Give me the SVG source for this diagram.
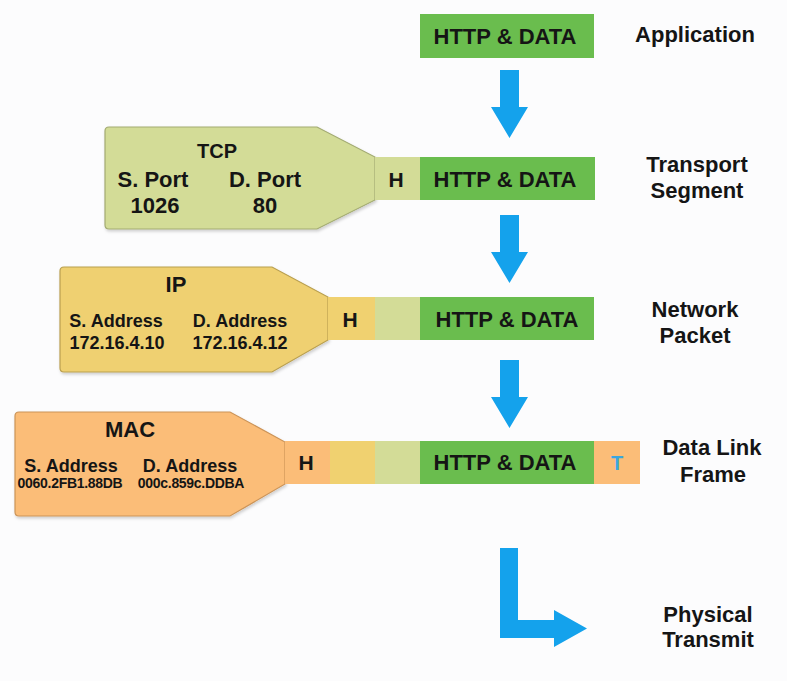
<svg xmlns="http://www.w3.org/2000/svg" width="787" height="681" viewBox="0 0 787 681">
<defs>
<style>
text{font-family:"Liberation Sans",Arial,Helvetica,sans-serif;font-weight:bold;fill:#151515;text-anchor:middle}
.lbl{font-size:22px}
.big{font-size:22px}
.mid{font-size:18px}
.sm{font-size:14px}
.http{fill:#6abd4e}
.lg{fill:#d3dc97}
.yl{fill:#f0d170}
.or{fill:#fbbd78}
.arrow{fill:#14a2ec}
.tcp{fill:#d3dc97;stroke:#a3ab72;stroke-width:1.2}
.ip{fill:#efd071;stroke:#b99f4f;stroke-width:1.2}
.mac{fill:#fbbd78;stroke:#cc9458;stroke-width:1.2}
</style>
<filter id="sh" x="-5%" y="-5%" width="115%" height="125%">
<feDropShadow dx="1" dy="2" stdDeviation="1.5" flood-color="#000" flood-opacity="0.18"/>
</filter>
</defs>
<rect width="787" height="681" fill="#fcfcfd"/>

<g id="connectors">
<path class="arrow" d="M500,70 H519 V107 H528 L509.5,138 L491,107 H500 Z"/>
<path class="arrow" d="M500,215 H519 V252 H528 L509.5,283 L491,252 H500 Z"/>
<path class="arrow" d="M500,360 H519 V397 H528 L509.5,428 L491,397 H500 Z"/>
<path class="arrow" d="M500,548 H518 V620 H554 V610 L587,628.5 L554,647 V638 H500 Z"/>
</g>

<g id="application">
<rect class="http" x="420" y="14" width="174" height="44"/>
<text class="big" x="505" y="44">HTTP &amp; DATA</text>
<text class="lbl" x="695" y="42">Application</text>
</g>

<g id="transport">
<path class="tcp" filter="url(#sh)" d="M109,127 H317 L375,157 V200 L317,229 H109 Q105,229 105,225 V131 Q105,127 109,127 Z"/>
<rect class="lg" x="375" y="157" width="45" height="43"/>
<rect class="http" x="420" y="157" width="175" height="43"/>
<text class="big" x="217" y="158" style="font-size:20px">TCP</text>
<text class="big" x="153" y="187">S. Port</text>
<text class="big" x="265" y="187">D. Port</text>
<text class="big" x="155" y="213">1026</text>
<text class="big" x="265" y="213">80</text>
<text class="big" x="396" y="187" style="font-size:21px">H</text>
<text class="big" x="505" y="187">HTTP &amp; DATA</text>
<text class="lbl" x="697" y="172">Transport</text>
<text class="lbl" x="697" y="198">Segment</text>
</g>

<g id="network">
<path class="ip" filter="url(#sh)" d="M64,267 H272 L328,297 V340 L272,372 H64 Q60,372 60,368 V271 Q60,267 64,267 Z"/>
<rect class="yl" x="328" y="297" width="47" height="43"/>
<rect class="lg" x="375" y="297" width="45" height="43"/>
<rect class="http" x="420" y="297" width="174" height="43"/>
<text class="big" x="176" y="292">IP</text>
<text class="mid" x="116" y="327">S. Address</text>
<text class="mid" x="240" y="327">D. Address</text>
<text class="mid" x="117" y="349">172.16.4.10</text>
<text class="mid" x="240" y="349">172.16.4.12</text>
<text class="big" x="350" y="327" style="font-size:21px">H</text>
<text class="big" x="507" y="327">HTTP &amp; DATA</text>
<text class="lbl" x="695" y="317">Network</text>
<text class="lbl" x="695" y="343">Packet</text>
</g>

<g id="datalink">
<path class="mac" filter="url(#sh)" d="M19,412 H230 L285,442 V484 L230,516 H19 Q15,516 15,512 V416 Q15,412 19,412 Z"/>
<rect class="or" x="285" y="441" width="45" height="43"/>
<rect class="yl" x="330" y="441" width="45" height="43"/>
<rect class="lg" x="375" y="441" width="45" height="43"/>
<rect class="http" x="420" y="441" width="174" height="43"/>
<rect class="or" x="594" y="441" width="46" height="43"/>
<text class="big" x="130" y="437">MAC</text>
<text class="mid" x="71" y="472">S. Address</text>
<text class="mid" x="190" y="472">D. Address</text>
<text class="sm" x="70" y="488" style="letter-spacing:-0.3px">0060.2FB1.88DB</text>
<text class="sm" x="191" y="488" style="letter-spacing:-0.3px">000c.859c.DDBA</text>
<text class="big" x="306" y="470" style="font-size:21px">H</text>
<text class="big" x="505" y="470">HTTP &amp; DATA</text>
<text class="big" x="617" y="470" style="font-size:20px;fill:#3aa6de">T</text>
<text class="lbl" x="712" y="455">Data Link</text>
<text class="lbl" x="713" y="482">Frame</text>
</g>

<g id="physical">
<text class="lbl" x="708" y="622">Physical</text>
<text class="lbl" x="708" y="647">Transmit</text>
</g>
</svg>
